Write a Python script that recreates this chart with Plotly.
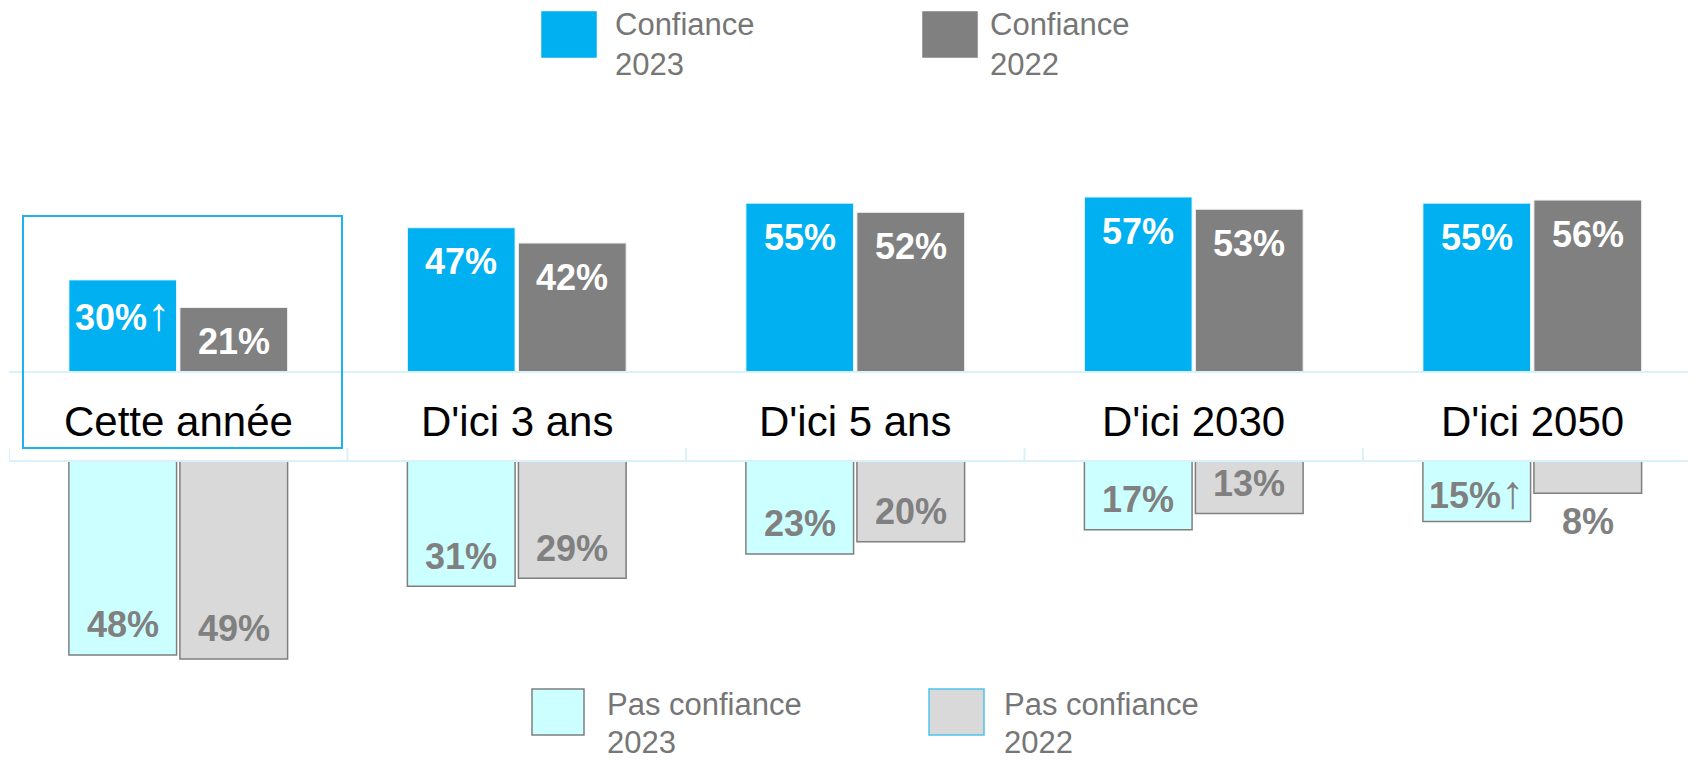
import plotly.graph_objects as go

# data
categories = ["Cette année", "D'ici 3 ans", "D'ici 5 ans", "D'ici 2030", "D'ici 2050"]
confiance_2023 = [30, 47, 55, 57, 55]
confiance_2022 = [21, 42, 52, 53, 56]
pas_confiance_2023 = [48, 31, 23, 17, 15]
pas_confiance_2022 = [49, 29, 20, 13, 8]
# categories where 2023 is significantly up vs 2022
up_conf = [True, False, False, False, False]
up_pas = [False, False, False, False, True]

BLUE = "#00b0f0"
DARK = "#808080"
CYAN = "#ccffff"
LIGHT = "#d9d9d9"
BAND = "#d8f1fb"
TXT = "#767676"
FONT = "Arial, Liberation Sans, sans-serif"
ARROW = "<span style='font-size:46px'>↑</span>"

# the page body has an 8px margin, so the figure is drawn 8px in from the window corner
OFF = 8
W, H = 1680, 746
BARGAP = 0.344
off = (1 - BARGAP) / 4  # distance of each bar centre from the category centre


def px(x):
    return (x - OFF) / W


def py(y):
    return 1 - (y - OFF) / H


fig = go.Figure()

fig.add_trace(go.Bar(x=categories, y=confiance_2023, name="Confiance 2023",
                     marker=dict(color=BLUE, line=dict(color="#e8f7fd", width=1)),
                     xaxis="x", yaxis="y"))
fig.add_trace(go.Bar(x=categories, y=confiance_2022, name="Confiance 2022",
                     marker=dict(color=DARK, line=dict(color="#eeeeee", width=1)),
                     xaxis="x", yaxis="y"))
fig.add_trace(go.Bar(x=categories, y=pas_confiance_2023, name="Pas confiance 2023",
                     marker=dict(color=CYAN, line=dict(color="#7f7f7f", width=1.5)),
                     xaxis="x2", yaxis="y2"))
fig.add_trace(go.Bar(x=categories, y=pas_confiance_2022, name="Pas confiance 2022",
                     marker=dict(color=LIGHT, line=dict(color="#7f7f7f", width=1.5)),
                     xaxis="x2", yaxis="y2"))

annotations = []
for i, cat in enumerate(categories):
    # value labels, upper bars
    for val, up, dx in [(confiance_2023[i], up_conf[i], -off), (confiance_2022[i], False, off)]:
        annotations.append(dict(x=i + dx, y=val, xref="x", yref="y", yanchor="middle",
                                yshift=-34, showarrow=False,
                                text=f"<b>{val}%</b>" + (ARROW if up else ""),
                                font=dict(family=FONT, size=36, color="white")))
    # value labels, lower bars
    for val, up, dx in [(pas_confiance_2023[i], up_pas[i], -off), (pas_confiance_2022[i], False, off)]:
        shift = 30 if val >= 10 else -28
        annotations.append(dict(x=i + dx, y=val, xref="x2", yref="y2", yanchor="middle",
                                yshift=shift, showarrow=False,
                                text=f"<b>{val}%</b>" + (ARROW if up else ""),
                                font=dict(family=FONT, size=36, color=DARK)))
    # category label in the band
    annotations.append(dict(x=i, y=py(421), xref="x", yref="paper", yanchor="middle",
                            showarrow=False, text=cat,
                            font=dict(family=FONT, size=42, color="black")))

# custom legends: (line1, line2, fill, edge, x0, x1, y0, y1, text x, line1 y, line2 y)
legend_items = [
    ("Confiance", "2023", BLUE, BLUE, 542, 596, 12, 57, 614, 24, 65),
    ("Confiance", "2022", DARK, DARK, 923, 977, 12, 57, 989, 24, 65),
    ("Pas confiance", "2023", CYAN, "#7f7f7f", 532, 584, 689, 735, 606, 704, 742),
    ("Pas confiance", "2022", LIGHT, "#4fc3f0", 929, 984, 689, 735, 1003, 704, 742),
]
shapes = []
for l1, l2, fill, edge, x0, x1, y0, y1, tx, ty1, ty2 in legend_items:
    shapes.append(dict(type="rect", xref="paper", yref="paper",
                       x0=px(x0), x1=px(x1), y0=py(y1), y1=py(y0),
                       fillcolor=fill, line=dict(color=edge, width=1.5)))
    for line, ty in ((l1, ty1), (l2, ty2)):
        annotations.append(dict(x=px(tx), y=py(ty), xref="paper", yref="paper",
                                xanchor="left", yanchor="middle", align="left",
                                showarrow=False, text=line, borderpad=0,
                                font=dict(family=FONT, size=31, color=TXT)))

# category band lines
for yb in (372, 461):
    shapes.append(dict(type="line", xref="paper", yref="paper", x0=px(9), x1=1,
                       y0=py(yb), y1=py(yb), line=dict(color=BAND, width=2), layer="above"))
for i in range(len(categories)):
    shapes.append(dict(type="line", xref="x", yref="paper", x0=i - 0.5, x1=i - 0.5,
                       y0=py(461), y1=py(448), line=dict(color=BAND, width=2)))

# highlight box around the first category
shapes.append(dict(type="rect", xref="paper", yref="paper",
                   x0=px(23), x1=px(342), y0=py(448), y1=py(216),
                   line=dict(color="#1eb2ee", width=2), fillcolor="rgba(0,0,0,0)",
                   layer="above"))

xr = [-0.5, -0.5 + (OFF + W - 9) / 338.5]
axis_off = dict(showgrid=False, zeroline=False, showticklabels=False, showline=False,
                ticks="", fixedrange=True)

fig.update_layout(
    width=W, height=H,
    margin=dict(l=0, r=0, t=0, b=0),
    paper_bgcolor="white", plot_bgcolor="white",
    barmode="group", bargap=BARGAP, bargroupgap=0.03,
    showlegend=False,
    xaxis=dict(domain=[px(9), 1], range=xr, **axis_off),
    xaxis2=dict(domain=[px(9), 1], range=xr, anchor="y2", **axis_off),
    yaxis=dict(domain=[py(372), 1], range=[0, (372 - OFF) / 3.07], **axis_off),
    yaxis2=dict(domain=[0, py(461)], range=[(OFF + H - 461) / 4.04, 0], anchor="x2", **axis_off),
    shapes=shapes,
    annotations=annotations,
)

fig.write_html("out.html")
